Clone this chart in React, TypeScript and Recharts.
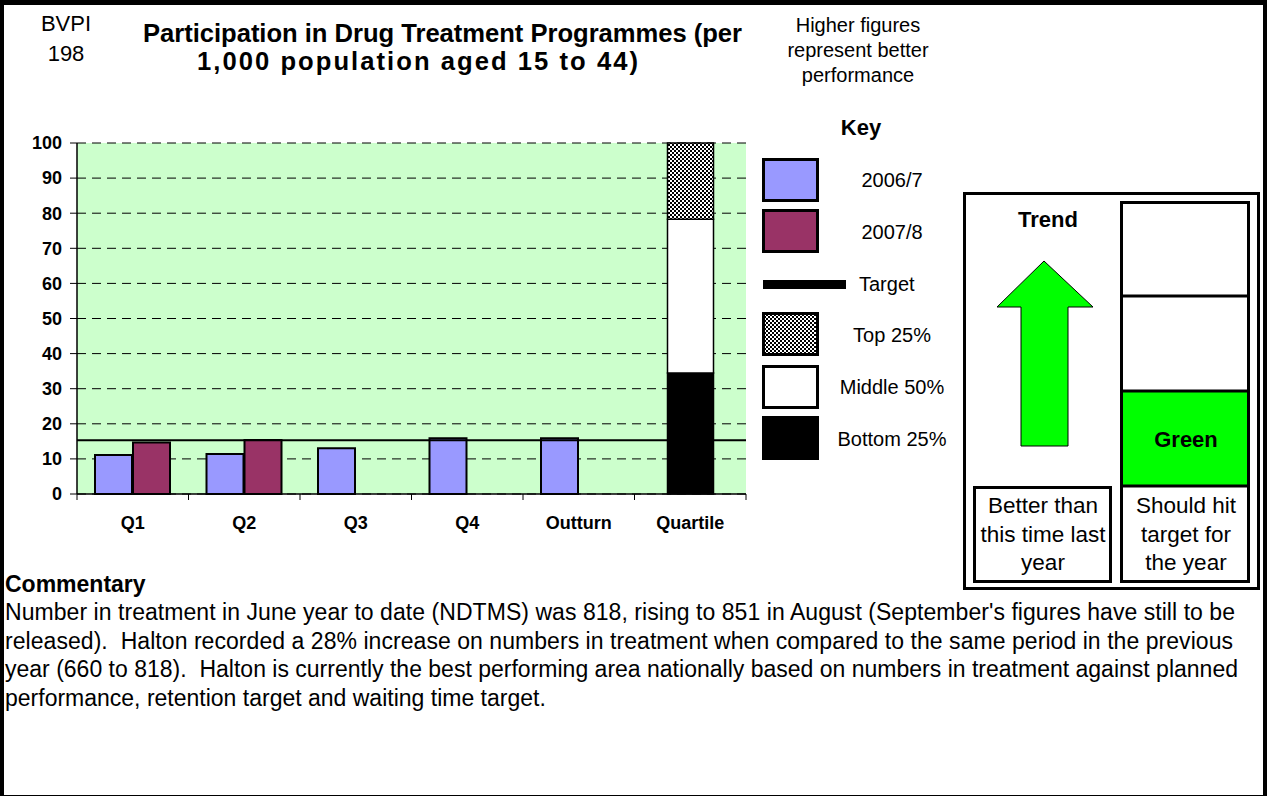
import { BarChart, Bar, XAxis, YAxis, CartesianGrid, ReferenceLine } from "recharts";

const FONT = "'Liberation Sans', Arial, sans-serif";

// chart data
const categories = ["Q1", "Q2", "Q3", "Q4", "Outturn", "Quartile"];
const values2006 = [11.1, 11.4, 13.0, 15.9, 15.9, null];
const values2007 = [14.7, 15.4, null, null, null, null];
const bottom25 = [null, null, null, null, null, 34.5];
const middle50 = [null, null, null, null, null, 43.8];
const top25 = [null, null, null, null, null, 21.7];
const targetValue = 15.3;
const yTicks = [0, 10, 20, 30, 40, 50, 60, 70, 80, 90, 100];

const commentary = [
  "Number in treatment in June year to date (NDTMS) was 818, rising to 851 in August (September's figures have still to be",
  "released).  Halton recorded a 28% increase on numbers in treatment when compared to the same period in the previous",
  "year (660 to 818).  Halton is currently the best performing area nationally based on numbers in treatment against planned",
  "performance, retention target and waiting time target.",
];
// measured line widths of the wrapped paragraph (last line is not stretched)
const commentaryWidths = [1230, 1228, 1233, null];

const data = categories.map((cat, i) => ({
  cat,
  y2006: values2006[i],
  y2007: values2007[i],
  bottom: bottom25[i],
  middle: middle50[i],
  top: top25[i],
}));

const CHART_W = 760;
const CHART_H = 545;
const PLOT_LEFT = 77;
const PLOT_RIGHT = 746;
const PLOT_TOP = 143;
const PLOT_BOTTOM = 494;
const BAND = (PLOT_RIGHT - PLOT_LEFT) / categories.length;

const CatTick = (props: any) => {
  const { x, payload, index } = props;
  const half = BAND / 2;
  return (
    <g>
      {index === 0 && (
        <line x1={x - half} x2={x - half} y1={PLOT_BOTTOM} y2={PLOT_BOTTOM + 6} stroke="#000" />
      )}
      <line x1={x + half} x2={x + half} y1={PLOT_BOTTOM} y2={PLOT_BOTTOM + 6} stroke="#000" />
      <text x={x} y={PLOT_BOTTOM + 35} textAnchor="middle" fontFamily={FONT} fontSize={18} fontWeight="bold" fill="#000">
        {payload.value}
      </text>
    </g>
  );
};

const Checker = ({ id }: { id: string }) => (
  <pattern id={id} patternUnits="userSpaceOnUse" width={4} height={4}>
    <rect width={4} height={4} fill="#fff" />
    <rect width={2} height={2} fill="#000" />
    <rect x={2} y={2} width={2} height={2} fill="#000" />
  </pattern>
);

const legendItems = [
  { label: "2006/7", fill: "#9999FF", y: 159.5, ty: 187 },
  { label: "2007/8", fill: "#993366", y: 210.5, ty: 239 },
  { label: "Top 25%", fill: "url(#checkKey)", y: 313.5, ty: 342 },
  { label: "Middle 50%", fill: "#fff", y: 366.5, ty: 394 },
  { label: "Bottom 25%", fill: "#000", y: 417.5, ty: 446 },
];

function Overlay() {
  const t = { fontFamily: FONT, fill: "#000" };
  return (
    <svg width={1267} height={796} style={{ position: "absolute", left: 0, top: 0 }}>
      <defs>
        <Checker id="checkKey" />
      </defs>
      {/* header */}
      <text {...t} x={66} y={31} fontSize={22} textAnchor="middle">BVPI</text>
      <text {...t} x={66} y={61} fontSize={22} textAnchor="middle">198</text>
      <text {...t} x={442.5} y={42} fontSize={25.6} fontWeight="bold" textAnchor="middle" textLength={599} lengthAdjust="spacing">
        Participation in Drug Treatment Programmes (per
      </text>
      <text {...t} x={417.5} y={70} fontSize={25.6} fontWeight="bold" textAnchor="middle" textLength={441} lengthAdjust="spacing">
        1,000 population aged 15 to 44)
      </text>
      <text {...t} x={858} y={32} fontSize={20} textAnchor="middle">Higher figures</text>
      <text {...t} x={858} y={57} fontSize={20} textAnchor="middle">represent better</text>
      <text {...t} x={858} y={82} fontSize={20} textAnchor="middle">performance</text>

      {/* key */}
      <text {...t} x={861} y={135} fontSize={22} fontWeight="bold" textAnchor="middle">Key</text>
      {legendItems.map((it) => (
        <g key={it.label}>
          <rect x={763.5} y={it.y} width={54} height={41} fill={it.fill} stroke="#000" strokeWidth={3} />
          <text {...t} x={892} y={it.ty} fontSize={20} textAnchor="middle">{it.label}</text>
        </g>
      ))}
      <line x1={763} x2={846} y1={284.5} y2={284.5} stroke="#000" strokeWidth={9} />
      <text {...t} x={859} y={291} fontSize={20}>Target</text>

      {/* trend box */}
      <rect x={964.5} y={193.5} width={294} height={395} fill="#fff" stroke="#000" strokeWidth={3} />
      <text {...t} x={1048} y={227} fontSize={22} fontWeight="bold" textAnchor="middle">Trend</text>
      <polygon
        points="1044,261 1093,307 1068,307 1068,446 1021,446 1021,307 997,307"
        fill="#00FF00"
        stroke="#000"
        strokeWidth={1}
      />
      <rect x={1121.5} y={391} width={127} height={95} fill="#00FF00" />
      <rect x={1121.5} y={202.5} width={127} height={379} fill="none" stroke="#000" strokeWidth={3} />
      <line x1={1121} x2={1249} y1={296} y2={296} stroke="#000" strokeWidth={3} />
      <line x1={1121} x2={1249} y1={391} y2={391} stroke="#000" strokeWidth={3} />
      <line x1={1121} x2={1249} y1={486} y2={486} stroke="#000" strokeWidth={3} />
      <text {...t} x={1186} y={447} fontSize={22} fontWeight="bold" textAnchor="middle">Green</text>
      <rect x={974.5} y={487.5} width={136} height={94} fill="#fff" stroke="#000" strokeWidth={3} />
      <text {...t} x={1043} y={513} fontSize={22.5} textAnchor="middle">Better than</text>
      <text {...t} x={1043} y={542} fontSize={22.5} textAnchor="middle">this time last</text>
      <text {...t} x={1043} y={570} fontSize={22.5} textAnchor="middle">year</text>
      <text {...t} x={1186} y={513} fontSize={22.5} textAnchor="middle">Should hit</text>
      <text {...t} x={1186} y={542} fontSize={22.5} textAnchor="middle">target for</text>
      <text {...t} x={1186} y={570} fontSize={22.5} textAnchor="middle">the year</text>

      {/* commentary */}
      <text {...t} x={5} y={592} fontSize={23} fontWeight="bold">Commentary</text>
      {commentary.map((line, i) => (
        <text
          key={i}
          {...t}
          x={5}
          y={620 + i * 28.5}
          fontSize={23}
          style={{ whiteSpace: "pre" }}
          {...(commentaryWidths[i] ? { textLength: commentaryWidths[i], lengthAdjust: "spacing" } : {})}
        >
          {line}
        </text>
      ))}
    </svg>
  );
}

export default function App() {
  return (
    <div style={{ position: "absolute", left: 0, top: 0, width: 1267, height: 796, background: "#fff", overflow: "hidden" }}>
      <div style={{ position: "absolute", left: 0, top: 0 }}>
        <BarChart
          width={CHART_W}
          height={CHART_H}
          data={data}
          margin={{ top: PLOT_TOP, right: CHART_W - PLOT_RIGHT, left: 17, bottom: CHART_H - PLOT_BOTTOM - 40 }}
          barGap={1}
        >
          <defs>
            <Checker id="checkBar" />
          </defs>
          <CartesianGrid vertical={false} fill="#CCFFCC" stroke="#000" strokeDasharray="9 6" fillOpacity={1} />
          <XAxis dataKey="cat" height={40} axisLine={{ stroke: "#000", strokeWidth: 1.5 }} tickLine={false} tick={<CatTick />} interval={0} />
          <XAxis dataKey="cat" xAxisId="q" hide />
          <YAxis
            width={60}
            domain={[0, 100]}
            ticks={yTicks}
            interval={0}
            axisLine={{ stroke: "#000", strokeWidth: 1.5 }}
            tickLine={{ stroke: "#000" }}
            tickSize={7}
            tickMargin={8}
            tick={{ fontFamily: FONT, fontSize: 18, fontWeight: "bold", fill: "#000" }}
          />
          <Bar dataKey="y2006" fill="#9999FF" stroke="#000" strokeWidth={2} barSize={37} isAnimationActive={false} />
          <Bar dataKey="y2007" fill="#993366" stroke="#000" strokeWidth={2} barSize={37} isAnimationActive={false} />
          <Bar dataKey="bottom" xAxisId="q" stackId="q" fill="#000" stroke="#000" strokeWidth={1.5} barSize={46} isAnimationActive={false} />
          <Bar dataKey="middle" xAxisId="q" stackId="q" fill="#fff" stroke="#000" strokeWidth={1.5} barSize={46} isAnimationActive={false} />
          <Bar dataKey="top" xAxisId="q" stackId="q" fill="url(#checkBar)" stroke="#000" strokeWidth={1.5} barSize={46} isAnimationActive={false} />
          <ReferenceLine y={targetValue} stroke="#000" strokeWidth={2} />
        </BarChart>
      </div>
      <Overlay />
      <div
        style={{
          position: "absolute",
          left: 0,
          top: 0,
          width: 1267,
          height: 796,
          boxSizing: "border-box",
          borderLeft: "4px solid #000",
          borderTop: "5px solid #000",
          borderRight: "4px solid #000",
          borderBottom: "1px solid #000",
          pointerEvents: "none",
        }}
      />
    </div>
  );
}
